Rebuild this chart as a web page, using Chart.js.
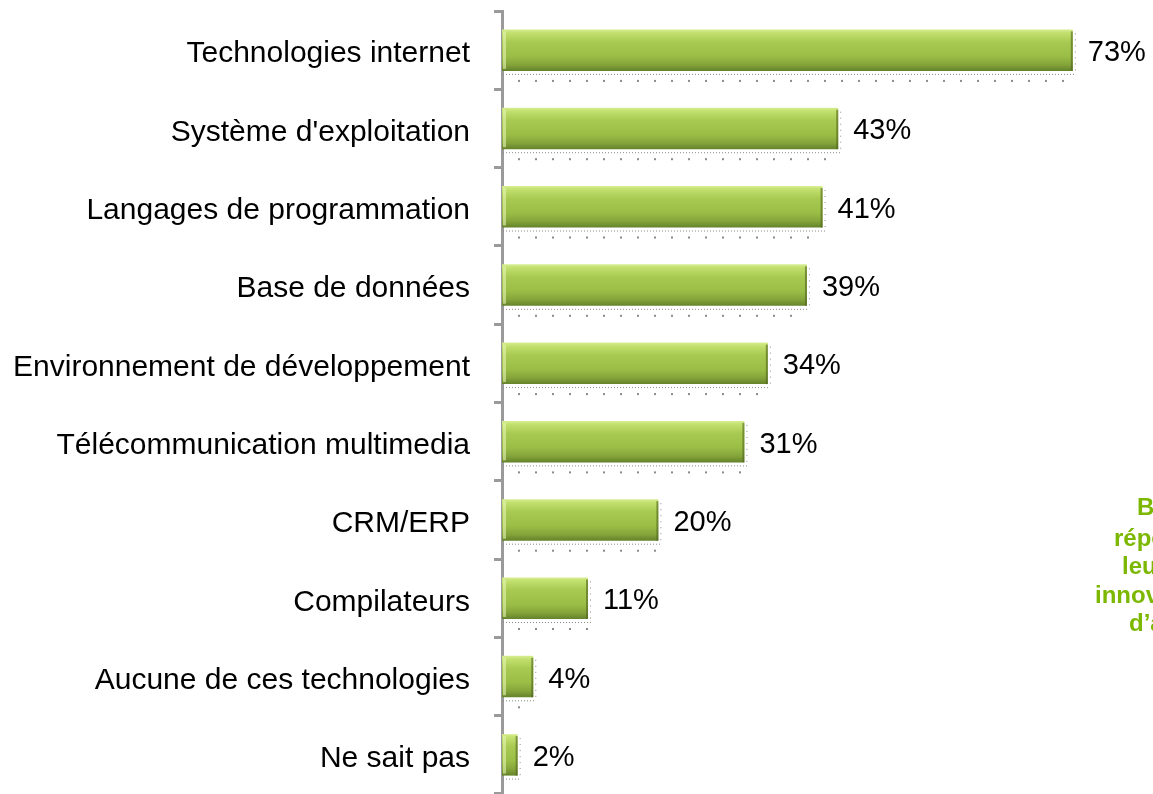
<!DOCTYPE html>
<html>
<head>
<meta charset="utf-8">
<script src="https://cdn.jsdelivr.net/npm/chart.js@4.4.1/dist/chart.umd.min.js"></script>
<style>
  body { margin: 0; background: #fff; overflow: hidden; }
  #wrap { position: relative; width: 1153px; height: 794px; overflow: hidden; }
  .note { position: absolute; font: bold 24px "Liberation Sans", Arial, sans-serif; color: #7cb800; white-space: nowrap; line-height: 1; }
</style>
</head>
<body>
<div id="wrap">
  <canvas id="techChart"></canvas>
  <div class="note" style="left:1137px; top:495px;">Base :</div>
  <div class="note" style="left:1114px; top:526px;">répondants</div>
  <div class="note" style="left:1122px; top:554px;">leur</div>
  <div class="note" style="left:1095px; top:583px;">innovation</div>
  <div class="note" style="left:1129px; top:611px;">d’application</div>
</div>
<script>
  const categories = [
    'Technologies internet',
    "Système d'exploitation",
    'Langages de programmation',
    'Base de données',
    'Environnement de développement',
    'Télécommunication multimedia',
    'CRM/ERP',
    'Compilateurs',
    'Aucune de ces technologies',
    'Ne sait pas'
  ];
  const shares = [73, 43, 41, 39, 34, 31, 20, 11, 4, 2];

  const BAR_PCT = 0.53;

  document.addEventListener("DOMContentLoaded", function() {
    const ctx = document.getElementById('techChart').getContext('2d');

    // vertical gradient per bar, from the category band on the y scale
    function barFill(context) {
      const chart = context.chart;
      const y = chart.scales.y;
      if (!y || !y.height) return '#9cc04a';
      const mid = y.getPixelForValue(context.dataIndex);
      const half = (y.height / categories.length) * BAR_PCT / 2;
      const g = chart.ctx.createLinearGradient(0, mid - half, 0, mid + half);
      g.addColorStop(0, '#d8ee94');
      g.addColorStop(0.08, '#c2e06e');
      g.addColorStop(0.3, '#a8ca52');
      g.addColorStop(0.65, '#9abd46');
      g.addColorStop(0.85, '#84a43a');
      g.addColorStop(1, '#64822a');
      return g;
    }

    const barExtras = {
      id: 'barExtras',
      afterDatasetsDraw(chart) {
        const c = chart.ctx;
        const meta = chart.getDatasetMeta(0);
        c.save();
        meta.data.forEach((bar, i) => {
          const left = chart.chartArea.left + 1;
          const right = bar.x;
          const top = bar.y - bar.height / 2;
          const bottom = bar.y + bar.height / 2;
          // light left bevel and dark right edge
          c.fillStyle = 'rgba(230,245,180,0.6)';
          c.fillRect(left, top + 2, 3, bar.height - 4);
          c.fillStyle = 'rgba(80,100,30,0.6)';
          c.fillRect(right - 2, top + 2, 2, bar.height - 2);
          // dotted shadow
          c.fillStyle = '#8a8a8a';
          for (let x = left; x <= right + 2; x += 3) c.fillRect(x, bottom + 3, 1, 1);
          for (let x = left + 15; x <= right; x += 17) c.fillRect(x, bottom + 9, 2, 2);
          for (let y = top + 4; y <= bottom; y += 6) c.fillRect(right + 2, y, 1, 1);
          // value label
          c.fillStyle = '#000';
          c.font = '29px "Liberation Sans", Arial, sans-serif';
          c.textBaseline = 'middle';
          c.textAlign = 'left';
          c.fillText(shares[i] + '%', right + 15, bar.y + 3);
        });
        c.restore();
      }
    };

    new Chart(ctx, {
      type: 'bar',
      data: {
        labels: categories,
        datasets: [{
          data: shares,
          backgroundColor: barFill,
          borderWidth: 0,
          categoryPercentage: 1,
          barPercentage: BAR_PCT
        }]
      },
      plugins: [barExtras],
      options: {
        indexAxis: 'y',
        responsive: true,
        maintainAspectRatio: false,
        animation: false,
        layout: { padding: { top: 11, right: 2, bottom: 0, left: 0 } },
        plugins: { legend: { display: false }, tooltip: { enabled: false } },
        scales: {
          x: { display: false, min: 0, max: 83 },
          y: {
            afterFit(scale) {
              scale.width = 502;
              scale.paddingTop = 0;
              scale.paddingBottom = 0;
            },
            border: { display: true, color: '#9a9a9a', width: 3 },
            grid: {
              offset: true,
              drawOnChartArea: false,
              color: '#9a9a9a',
              lineWidth: 3,
              tickLength: 8
            },
            ticks: {
              color: '#000',
              padding: 24,
              labelOffset: 4,
              font: { family: '"Liberation Sans", Arial, sans-serif', size: 30 }
            }
          }
        }
      }
    });
  });
</script>
</body>
</html>
